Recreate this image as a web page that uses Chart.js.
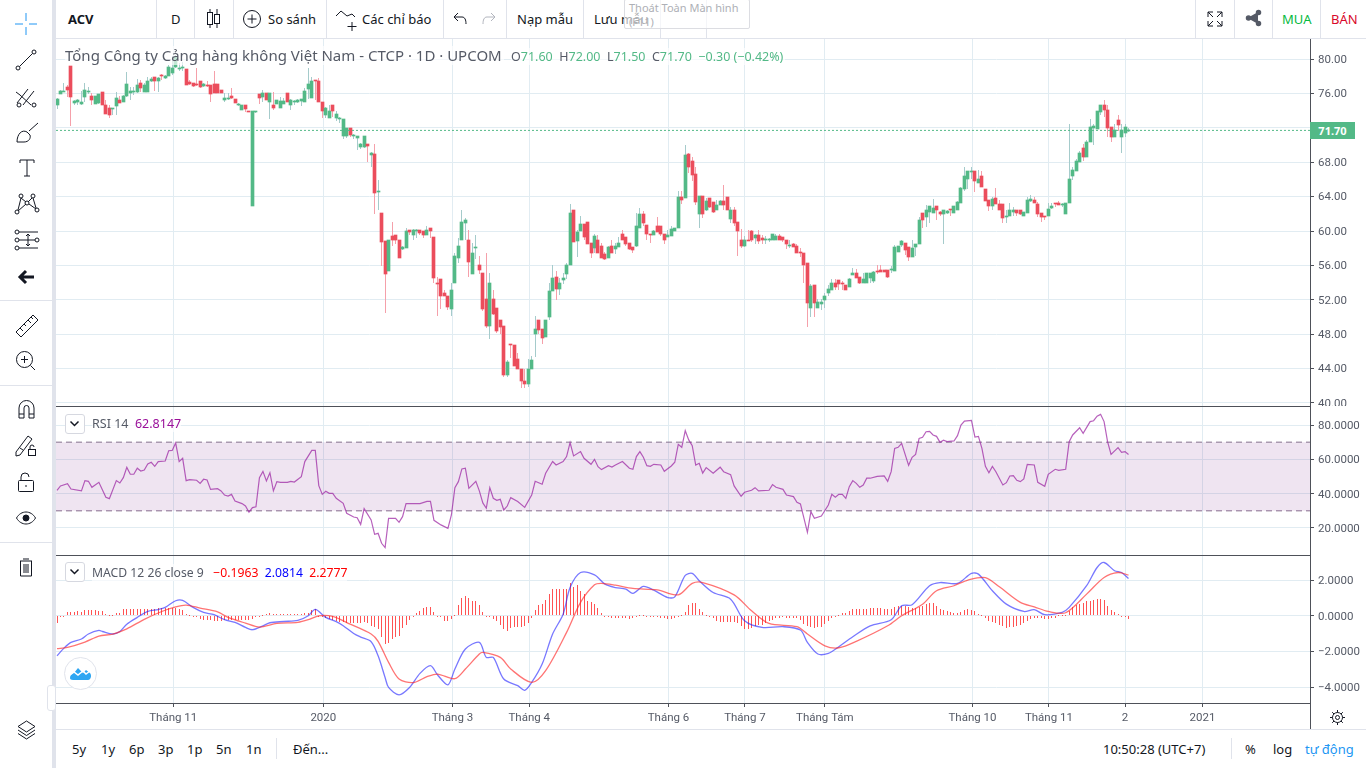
<!DOCTYPE html>
<html>
<head>
<meta charset="utf-8">
<title>ACV</title>
<script src="https://cdn.jsdelivr.net/npm/chart.js@4"></script>
<style>
html,body{margin:0;padding:0;background:#fff;width:1366px;height:768px;overflow:hidden;font-family:"Noto Sans",sans-serif;color:#131722}
canvas{position:absolute;left:56px}
.t{position:absolute;white-space:nowrap;font-size:13px;line-height:16px}
.v{position:absolute;background:#e0e3eb;width:1px}
.h{position:absolute;background:#e0e3eb;height:1px}
.sep{position:absolute;background:#4e5159}
svg{position:absolute;overflow:visible;fill:none;stroke:#131722;stroke-width:1}
.leg{position:absolute;white-space:nowrap;font-size:12.500px;line-height:17px;background:rgba(255,255,255,.65);color:#555a66}
.btn{position:absolute;left:65px;width:18px;height:18px;border:1px solid #d6d8e0;border-radius:3px;background:#fff}
</style>
</head>
<body>
<canvas id="priceChart" width="1310" height="367" style="top:39px"></canvas>
<canvas id="rsiChart" width="1310" height="149" style="top:406px"></canvas>
<canvas id="macdChart" width="1310" height="175" style="top:555px"></canvas>
<div class="sep" style="left:56px;top:406px;width:1254px;height:1px"></div>
<div class="sep" style="left:56px;top:555px;width:1254px;height:1px"></div>
<div class="sep" style="left:56px;top:703px;width:1254px;height:1px"></div>
<div class="sep" style="left:1310px;top:39px;width:1px;height:691px"></div>

<!-- top bar -->
<div class="h" style="left:52px;top:38px;width:1314px"></div>
<div class="v" style="left:52px;top:0;height:768px;width:4px"></div>
<div class="v" style="left:156px;top:0;height:38px"></div>
<div class="v" style="left:194px;top:0;height:38px"></div>
<div class="v" style="left:233px;top:0;height:38px"></div>
<div class="v" style="left:326px;top:0;height:38px"></div>
<div class="v" style="left:443px;top:0;height:38px"></div>
<div class="v" style="left:506px;top:0;height:38px"></div>
<div class="v" style="left:583px;top:0;height:38px"></div>
<div class="v" style="left:660px;top:0;height:38px"></div>
<div class="v" style="left:706px;top:0;height:38px"></div>
<div class="v" style="left:1195px;top:0;height:38px"></div>
<div class="v" style="left:1234px;top:0;height:38px"></div>
<div class="v" style="left:1272px;top:0;height:38px"></div>
<div class="v" style="left:1320px;top:0;height:38px"></div>
<span class="t" style="left:68px;top:11px;font-weight:700">ACV</span>
<span class="t" style="left:171px;top:11px">D</span>
<svg style="left:206px;top:9px" width="16" height="20"><path d="M4 0v3M4 15v4M11 0v5M11 14v5"/><rect x="1.5" y="3.5" width="5" height="12"/><rect x="8.5" y="5.5" width="5" height="9"/></svg>
<svg style="left:243px;top:10px" width="18" height="18"><circle cx="9" cy="9" r="8.5"/><path d="M9 4.5v9M4.5 9h9"/></svg>
<span class="t" style="left:268px;top:11px">So sánh</span>
<svg style="left:335px;top:10px" width="24" height="22"><path d="M1 6l5-5 6 5 5-2 3 3M17 12v9M12.500 16.500h9"/></svg>
<span class="t" style="left:362px;top:11px">Các chỉ báo</span>
<svg style="left:453px;top:12px" width="15" height="14"><path d="M5 1L1 5l4 4M1 5h8c3 0 4 3 4 7"/></svg>
<svg style="left:481px;top:12px;stroke:#b2b5be" width="15" height="14"><path d="M10 1l4 4-4 4M14 5H6c-3 0-4 3-4 7"/></svg>
<span class="t" style="left:517px;top:11px">Nạp mẫu</span>
<span class="t" style="left:594px;top:11px">Lưu mẫu</span>
<div style="position:absolute;left:624px;top:-1px;width:124px;height:28px;border:1px solid #dcdde2;border-radius:2px;background:rgba(255,255,255,.65)"></div>
<span class="t" style="left:629px;top:1px;font-size:11px;color:#aeb0b6;line-height:14px">Thoát Toàn Màn hình<br>(F11)</span>
<svg style="left:1207px;top:11px" width="16" height="16"><path d="M6 1H1v5M10 1h5v5M6 15H1v-5M10 15h5v-5M1 1l5 5M15 1l-5 5M1 15l5-5M15 15l-5-5"/></svg>
<svg style="left:1246px;top:10px;fill:#555a66;stroke:#555a66;stroke-width:1.500" width="15" height="16"><circle cx="12.500" cy="2.500" r="2"/><circle cx="2.500" cy="8" r="2"/><circle cx="12.500" cy="13.500" r="2"/><path d="M12 3L3 8l9 5"/></svg>
<span class="t" style="left:1282px;top:11px;color:#06b93f">MUA</span>
<span class="t" style="left:1331px;top:11px;color:#d9082a">BÁN</span>

<!-- left toolbar -->
<svg style="left:15px;top:13px;stroke:#2196f3" width="22" height="22"><path d="M11 0v8M11 14v8M0 11h8M14 11h8"/></svg>
<svg style="left:15px;top:49px" width="22" height="22"><circle cx="3" cy="19" r="2"/><circle cx="19" cy="3" r="2"/><path d="M4.500 17.500L17.500 4.500"/></svg>
<svg style="left:15px;top:86px" width="22" height="22"><path d="M2 17L13 3M8 19L19 5M5 9l11 10M1 6l4 3"/><circle cx="4" cy="19" r="2"/><circle cx="19" cy="19" r="2"/></svg>
<svg style="left:15px;top:122px" width="24" height="22"><path d="M2 20c0-8 5-13 10-10l3 3c1 3-1 7-6 7H2zM14 9L23 1"/></svg>
<svg style="left:19px;top:159px" width="16" height="18"><path d="M1 4V1h14v3M8 1v16M5 17h6"/></svg>
<svg style="left:15px;top:193px" width="24" height="22"><circle cx="6" cy="3" r="2"/><circle cx="18" cy="3" r="2"/><circle cx="12" cy="10" r="2"/><circle cx="2" cy="19" r="2"/><circle cx="22" cy="17" r="2"/><path d="M6 5l5 4M17 5l-4 4M6 5L3 17M18 5l3 10M3 18l8-7M14 11l7 5"/></svg>
<svg style="left:15px;top:230px" width="24" height="20"><circle cx="2" cy="2" r="2"/><circle cx="2" cy="10" r="2"/><circle cx="2" cy="18" r="2"/><circle cx="22" cy="10" r="2"/><path d="M4 2h19M4 10h16M4 18h19M13 4v12M11 6l2-2 2 2M11 14l2 2 2-2"/></svg>
<svg style="left:19px;top:270px;stroke:#131722;stroke-width:3" width="16" height="14"><path d="M7 1L1 7l6 6M1 7h14"/></svg>
<div class="h" style="left:0;top:300px;width:52px"></div>
<svg style="left:15px;top:314px" width="24" height="24"><path d="M1 18L18 1l5 5L6 23zM5 14l3 3M9 10l2 2M13 6l3 3M16 3l2 2"/></svg>
<svg style="left:16px;top:351px" width="20" height="20"><circle cx="8.500" cy="8.500" r="8"/><path d="M5 8.500h7M8.500 5v7M14.500 14.500l4.500 4.500"/></svg>
<div class="h" style="left:0;top:385px;width:52px"></div>
<svg style="left:18px;top:400px" width="17" height="19"><path d="M1 18V8a7.500 7.500 0 0 1 15 0v10h-5V8a2.500 2.500 0 0 0-5 0v10zM1 14h5M11 14h5"/></svg>
<svg style="left:15px;top:434px" width="22" height="22"><path d="M1 18L13 2l4 3L5 21l-4 1zM5 14l3 2"/><rect x="13.500" y="15.500" width="7" height="6"/><path d="M15 15v-2a2 2 0 0 1 4 0"/></svg>
<svg style="left:18px;top:472px" width="16" height="20"><rect x="0.500" y="8.500" width="15" height="11" rx="1"/><path d="M3 8V5a4 4 0 0 1 8 0M8 13v2"/></svg>
<svg style="left:16px;top:511px" width="20" height="14"><path d="M0.500 7C5-1 15-1 19.500 7 15 15 5 15 0.500 7z"/><circle cx="10" cy="7" r="3" fill="#131722"/></svg>
<div class="h" style="left:0;top:542px;width:52px"></div>
<svg style="left:19px;top:558px" width="14" height="19"><path d="M1 3h12M4 1h6M1.500 3v15h11V3M5 6v9M7 6v9M9 6v9"/></svg>
<svg style="left:17px;top:720px" width="19" height="20"><path d="M9.500 1l8.500 5.500-8.500 5.500L1 6.500zM1 10l8.500 5.500L18 10M1 13.500L9.500 19l8.500-5.500"/></svg>

<!-- legends -->
<div class="leg" style="left:65px;top:46px;width:436px;font-size:15px;line-height:19px;padding-right:3px">Tổng Công ty Cảng hàng không Việt Nam - CTCP · 1D · UPCOM</div>
<div class="leg" style="left:511px;top:48px;padding-right:2px">O<span style="color:#53b987">71.60</span>&nbsp; H<span style="color:#53b987">72.00</span>&nbsp; L<span style="color:#53b987">71.50</span>&nbsp; C<span style="color:#53b987">71.70</span>&nbsp; <span style="color:#53b987">−0.30 (−0.42%)</span></div>
<div class="btn" style="top:414px"></div>
<svg style="left:70px;top:421px;stroke-width:1.500" width="9" height="6"><path d="M0.500 0.500L4.500 4.500 8.500 0.500"/></svg>
<div class="leg" style="left:92px;top:415px">RSI 14&nbsp; <span style="color:#990f99">62.8147</span></div>
<div class="btn" style="top:562px"></div>
<svg style="left:70px;top:569px;stroke-width:1.500" width="9" height="6"><path d="M0.500 0.500L4.500 4.500 8.500 0.500"/></svg>
<div class="leg" style="left:92px;top:564px;font-size:12.200px">MACD 12 26 close 9 &nbsp; <span style="color:#ff0000">−0.1963</span>&nbsp; <span style="color:#0000ff">2.0814</span>&nbsp; <span style="color:#ff0000">2.2777</span></div>
<div class="t" style="left:1310px;top:122px;width:45px;height:17px;line-height:17px;background:#53b987;color:#fff;font-size:11px;font-weight:700;text-align:center">71.70</div>

<!-- logo and handle -->
<div style="position:absolute;left:64px;top:657px;width:31px;height:31px;border:1px solid #e0e3eb;border-radius:50%;background:#fff"></div>
<svg style="left:70px;top:665px;fill:#2ea6f2;stroke:none" width="22" height="16"><path d="M0 13c0-3 2-5 4-5l4-5 5 5 3-3 4 3c2 2 1 7-2 7H3c-2 0-3-1-3-2z"/><path d="M0 10l4-3 4 3 5-4 3 3 4-3" style="fill:none;stroke:#fff;stroke-width:1.500"/></svg>
<div style="position:absolute;left:47px;top:685px;width:7px;height:24px;border:1px solid #e0e3eb;border-radius:3px;background:#fff"></div>

<!-- bottom bar -->
<div class="h" style="left:52px;top:729px;width:1314px"></div>
<div class="v" style="left:276px;top:738px;height:21px"></div>
<span class="t" style="left:72px;top:741px">5y</span>
<span class="t" style="left:101px;top:741px">1y</span>
<span class="t" style="left:129px;top:741px">6p</span>
<span class="t" style="left:158px;top:741px">3p</span>
<span class="t" style="left:187px;top:741px">1p</span>
<span class="t" style="left:216px;top:741px">5n</span>
<span class="t" style="left:246px;top:741px">1n</span>
<span class="t" style="left:293px;top:741px">Đến...</span>
<span class="t" style="left:1103px;top:741px">10:50:28 (UTC+7)</span>
<div class="v" style="left:1231px;top:738px;height:21px"></div>
<span class="t" style="left:1245px;top:741px">%</span>
<span class="t" style="left:1273px;top:741px">log</span>
<span class="t" style="left:1305px;top:741px;color:#2196f3">tự động</span>
<svg style="left:1330px;top:710px" width="15" height="15"><circle cx="7.500" cy="7.500" r="5"/><circle cx="7.500" cy="7.500" r="2"/><path d="M7.500 0v2.500M7.500 12.500V15M0 7.500h2.500M12.500 7.500H15M2.200 2.200L4 4M11 11l1.800 1.800M2.200 12.800L4 11M11 4l1.800-1.800"/></svg>

<script>
const opens = [74.6,75.9,76.2,76.7,79.2,74.9,75.0,74.8,75.6,76.2,
75.7,74.8,74.9,76.2,74.6,74.3,74.2,74.5,75.2,75.0,
75.7,76.0,76.2,76.2,77.2,76.2,76.2,77.4,77.9,77.5,
78.2,77.8,78.0,78.4,79.1,78.8,78.9,78.8,77.3,77.2,
77.1,77.4,76.9,77.0,77.0,77.1,77.1,76.4,75.2,75.3,
75.7,75.3,74.6,74.1,74.6,74.0,62.9,73.8,75.9,75.6,
76.0,75.0,74.6,74.8,74.3,74.8,76.0,74.6,75.0,75.0,
75.1,75.0,76.5,75.5,77.6,77.4,75.0,73.5,73.1,74.6,
73.1,73.0,71.0,71.0,72.0,71.0,70.8,69.8,69.8,70.1,
68.8,69.0,64.5,62.1,58.8,55.4,59.4,59.5,59.0,57.9,
58.0,60.1,59.5,60.0,60.1,60.0,59.5,60.4,59.3,54.0,
54.4,52.8,52.5,50.9,54.0,56.9,58.9,60.9,59.0,55.0,
58.0,56.0,55.1,52.1,48.9,52.1,51.0,49.6,48.9,43.2,
46.9,46.8,45.1,44.0,42.6,42.2,43.9,48.0,49.6,48.6,
47.7,50.0,53.0,54.6,53.3,54.3,55.0,56.1,62.5,58.8,
60.0,60.8,61.0,58.6,58.0,59.0,58.3,57.3,56.9,58.3,
57.9,58.1,59.7,59.3,58.6,58.1,58.2,60.4,62.0,60.7,
59.6,59.5,60.6,60.6,59.7,59.3,59.4,60.0,60.3,63.9,
63.8,69.0,68.1,66.6,62.0,64.1,62.4,63.8,63.4,62.4,
63.0,63.5,63.9,61.4,62.4,61.0,58.9,58.3,59.0,60.0,
59.2,59.5,59.2,59.0,59.0,59.0,59.0,59.4,59.3,59.0,
58.3,58.5,58.3,57.6,57.5,56.3,51.0,53.7,51.1,51.5,
52.0,52.8,53.1,53.9,54.3,54.0,53.7,53.5,54.9,55.1,
54.6,54.0,54.0,54.5,54.2,55.3,55.5,55.5,55.5,55.5,
55.3,57.6,58.4,58.6,58.1,57.0,58.1,58.5,62.1,61.6,
62.2,62.1,62.9,62.2,62.0,62.1,62.5,62.1,62.4,63.2,
64.9,66.0,66.9,67.0,65.6,66.4,64.9,63.6,62.9,63.8,
63.1,63.1,61.6,61.7,62.2,62.5,62.4,61.7,62.1,63.5,
63.6,63.1,62.1,61.7,61.7,62.7,63.2,63.2,63.0,62.0,
63.2,66.4,67.0,68.0,69.6,68.6,70.3,72.0,71.9,73.8,
74.6,74.1,72.1,70.9,72.9,70.9,71.4,71.6];
const highs = [75.5,76.4,77.2,77.0,79.2,75.2,75.3,76.3,77.2,76.7,
76.0,75.7,75.9,76.2,75.2,74.6,74.3,76.2,75.7,75.8,
78.5,76.8,76.8,77.7,77.6,77.2,77.9,77.9,77.9,77.9,
78.3,78.1,79.3,80.3,80.5,79.5,79.6,78.8,77.6,77.2,
79.0,77.4,77.2,77.4,77.0,78.6,77.1,76.4,76.1,76.0,
76.6,75.3,74.9,74.7,74.6,74.0,74.0,74.0,75.9,76.4,
76.0,76.0,76.2,75.2,75.6,75.5,76.0,75.3,75.2,75.3,
75.4,76.6,79.0,77.9,77.6,77.8,75.0,74.4,74.6,74.6,
73.9,73.3,73.0,72.0,72.0,71.3,71.0,70.2,71.0,70.1,
69.2,70.1,65.9,62.1,58.8,59.0,61.1,59.5,59.0,58.3,
60.4,60.1,60.2,60.2,60.1,60.0,60.6,60.4,59.3,54.6,
54.4,53.1,52.5,54.0,57.5,59.2,62.5,61.5,60.1,58.6,
59.5,57.1,55.1,57.5,55.1,53.1,51.0,49.6,48.9,45.0,
46.9,46.8,45.8,44.0,44.0,45.1,45.5,50.1,49.6,48.6,
49.6,54.0,56.0,55.3,54.5,55.1,56.3,63.1,62.5,60.1,
61.7,60.8,61.0,58.6,59.6,59.5,58.6,57.6,58.3,58.9,
58.6,59.3,60.1,59.3,58.6,58.1,62.1,62.7,62.3,60.7,
59.6,60.1,61.6,60.6,59.7,60.1,60.6,60.4,64.6,64.6,
70.0,69.1,68.6,67.5,64.1,64.1,63.8,63.8,63.4,63.6,
63.6,65.3,64.0,62.8,62.8,61.0,60.2,59.4,60.1,60.1,
59.6,60.1,59.5,59.4,59.2,59.6,59.6,59.6,59.3,59.0,
58.9,58.6,58.5,58.0,57.5,56.3,53.8,53.7,52.1,52.1,
52.8,53.7,54.4,54.4,54.3,54.2,53.7,54.5,55.7,55.6,
54.6,55.1,55.1,55.1,55.3,56.0,56.0,55.5,55.5,55.9,
58.4,58.2,58.9,58.6,58.1,59.0,58.5,61.6,62.1,63.0,
62.9,63.7,62.9,62.3,62.5,62.5,62.6,62.9,63.5,65.1,
67.4,67.0,67.5,67.0,67.1,67.0,64.9,63.6,63.9,65.0,
63.6,63.1,62.5,63.2,62.8,62.5,62.4,62.2,63.9,64.2,
64.0,63.4,62.1,61.7,63.2,63.2,63.3,63.5,63.3,63.2,
72.4,67.4,68.4,69.3,70.1,70.6,73.0,72.4,74.0,74.6,
75.2,74.6,72.1,72.4,73.5,72.4,72.4,72.0];
const lows = [74.2,75.9,76.2,75.6,72.2,74.7,74.7,74.7,75.0,75.9,
74.6,74.8,74.8,74.6,73.6,73.1,73.5,73.5,74.9,75.0,
75.6,75.2,75.8,76.1,76.2,76.2,76.2,77.3,76.3,76.2,
77.6,77.7,78.0,78.1,79.0,78.6,78.6,77.0,77.0,76.8,
76.9,76.6,76.8,76.8,75.0,76.0,76.0,76.0,75.0,75.2,
75.4,74.9,74.5,74.1,73.8,73.8,62.9,73.7,74.8,75.0,
75.2,73.0,74.1,74.8,74.3,74.8,75.0,74.1,74.7,74.9,
74.5,75.0,75.4,75.5,75.2,75.0,73.1,73.1,73.1,73.3,
72.8,72.6,70.7,70.8,70.9,70.7,69.4,69.5,69.6,68.0,
67.5,62.0,62.4,55.9,50.5,55.4,58.2,58.5,56.9,57.8,
58.0,59.5,58.9,59.2,59.5,59.2,59.5,59.2,54.0,50.1,
50.9,52.4,50.8,50.1,54.0,56.3,58.9,58.9,54.6,55.0,
56.8,55.0,50.7,48.7,47.4,50.2,48.1,48.0,43.0,43.0,
45.2,44.3,43.9,41.7,41.7,41.9,43.9,45.4,48.0,46.9,
47.7,49.7,53.0,52.0,52.6,53.8,54.4,56.0,58.7,57.0,
60.0,58.9,58.5,56.9,57.5,57.5,56.9,56.6,56.9,57.4,
57.3,58.1,59.0,58.2,57.8,57.4,58.1,60.4,60.6,59.0,
58.6,59.5,59.9,59.4,58.5,59.3,59.4,60.0,60.3,63.1,
63.8,66.7,65.8,63.0,60.4,61.5,62.3,62.7,62.1,62.4,
63.0,62.5,62.4,60.9,60.6,57.1,58.0,58.1,58.8,58.7,
58.5,58.5,58.5,58.5,58.7,58.9,58.9,59.0,58.7,57.9,
58.0,58.1,57.4,57.0,53.9,48.8,50.0,50.0,51.0,50.8,
51.0,52.4,53.1,53.1,53.1,53.1,53.1,53.5,54.9,54.5,
53.8,54.0,54.0,53.9,54.0,55.0,55.2,55.2,54.5,55.1,
55.3,57.6,58.1,57.2,56.5,57.0,57.1,58.5,60.3,60.5,
60.9,62.1,61.3,61.7,58.5,62.0,61.7,62.1,62.4,63.2,
64.6,64.9,66.1,64.5,65.6,65.1,63.5,62.3,62.4,63.1,
62.4,60.9,60.9,61.7,61.7,61.7,61.9,61.7,62.1,63.4,
63.2,61.6,61.0,61.3,61.7,62.6,62.8,63.0,62.8,62.0,
63.2,65.9,67.0,68.0,68.1,68.6,70.3,70.0,71.9,73.5,
73.3,70.9,70.3,70.9,71.6,69.1,70.9,71.5];
const closes = [75.3,76.3,76.3,76.4,75.6,75.1,75.2,75.0,76.4,76.3,
75.2,75.7,75.9,74.6,73.6,73.5,74.3,75.5,74.9,75.7,
77.1,76.3,76.3,77.0,76.6,77.0,77.4,77.7,77.4,77.8,
78.0,78.0,79.1,79.0,80.2,78.9,79.1,77.0,77.1,76.9,
77.0,76.7,77.1,76.9,75.9,76.0,76.0,76.0,75.5,75.5,
75.5,74.9,74.8,74.6,74.2,73.8,74.0,74.0,75.5,76.0,
75.2,76.0,74.3,75.2,75.1,75.1,75.0,75.2,75.1,75.2,
75.3,76.3,77.1,77.4,77.4,75.0,74.0,74.3,73.9,73.9,
73.6,73.2,73.0,72.0,71.2,71.1,71.0,70.1,71.0,69.9,
69.1,64.4,64.6,58.7,55.0,59.0,58.9,58.9,56.9,58.1,
60.0,59.9,60.1,60.1,59.8,59.5,60.1,60.0,54.5,53.8,
52.5,52.4,51.2,53.1,57.1,58.3,61.0,61.3,56.4,57.4,
58.1,55.5,50.9,48.9,53.9,50.4,48.4,48.8,43.3,44.8,
46.7,44.3,43.9,42.5,42.2,44.0,45.0,48.6,48.5,47.6,
49.6,53.0,54.5,53.2,54.0,54.5,56.0,62.1,58.7,59.9,
60.8,59.3,58.5,57.5,59.4,57.5,56.9,56.8,58.1,57.4,
58.2,58.6,59.0,58.5,57.9,57.8,60.6,62.0,60.9,59.6,
59.5,60.0,59.9,59.6,58.9,59.5,60.2,60.3,63.9,63.6,
68.8,67.4,66.5,63.4,64.1,62.0,63.5,62.8,62.2,63.0,
63.5,63.0,62.4,62.4,60.9,60.0,58.2,58.9,58.8,59.0,
59.5,58.8,58.9,59.1,59.1,59.6,59.4,59.0,58.9,58.5,
58.4,58.1,57.5,57.4,56.1,51.6,53.6,51.6,51.8,51.7,
52.4,53.2,53.9,53.5,53.8,53.8,53.1,54.4,55.1,54.5,
54.0,54.4,55.1,55.1,55.2,55.2,55.2,55.2,54.7,55.6,
58.1,58.2,58.8,57.8,57.0,58.0,58.5,61.3,61.3,62.4,
62.9,62.7,62.4,62.0,62.5,62.3,62.4,62.9,63.4,65.0,
66.4,67.0,67.0,65.8,66.0,65.1,63.5,62.9,63.7,63.1,
62.4,61.5,61.8,62.5,62.5,62.1,62.0,62.2,63.6,63.7,
63.2,62.0,61.6,61.6,62.6,62.9,63.1,63.0,63.1,63.2,
66.0,67.1,68.2,69.1,68.6,70.3,72.1,72.2,74.0,74.6,
74.1,72.0,70.9,71.7,72.3,71.8,72.1,71.7];

const rsiBars = [0,1,3,4,7,8,9,10,12,14,15,17,18,19,20,21,22,23,24,25,26,27,28,29,31,32,33,34,35,36,37,38,40,41,42,43,44,46,47,48,49,50,51,53,54,55,56,57,58,59,60,61,62,63,64,66,67,68,70,71,73,74,75,76,77,78,79,80,82,83,85,86,87,88,90,91,92,93,94,95,97,98,99,100,104,106,107,108,110,112,113,114,115,116,117,118,120,121,122,123,124,125,126,127,128,129,130,132,134,136,137,139,140,142,143,145,146,147,148,150,151,
153,154,155,156,158,159,160,162,164,165,166,167,168,169,170,171,173,174,176,177,178,179,180,181,182,183,184,185,186,188,190,191,193,194,196,197,199,200,201,204,205,206,208,209,211,212,213,215,216,217,219,221,222,223,224,225,226,227,228,229,230,231,232,233,235,237,238,239,240,241,242,244,245,246,247,248,249,250,251,252,253,254,255,257,258,259,260,262,263,264,265,266,267,268,269,271,272,273,274,275,276,277,278,280,281,283,284,286,287,289,290,291,293,294,296,297,298,299,300,301,302,304,305,306,307];
const rsiValues = [41.9,44.5,45.8,42.7,41.6,47.6,47.2,43.7,46.6,37.9,37.1,47.6,46.2,49.3,55.3,51.3,51.3,54.8,53.2,53.8,57.3,58.3,55.9,58.7,59.0,65.0,65.2,69.5,58.7,60.6,47.6,48.2,47.8,46.0,48.4,48.0,42.5,42.9,41.6,39.2,38.6,39.6,35.7,34.2,32.8,29.2,31.9,32.4,49.3,53.0,47.4,52.2,41.6,47.0,46.6,46.6,47.2,46.8,49.9,58.7,65.2,65.2,44.7,39.6,41.4,40.2,40.2,37.3,34.4,28.6,26.4,26.0,22.1,31.3,24.7,16.3,16.9,11.1,8.6,25.6,25.6,23.3,26.6,34.2,34.2,35.5,35.5,24.5,21.8,19.8,27.6,43.5,47.0,54.4,54.8,43.1,47.2,41.6,34.6,31.5,43.5,37.3,36.1,36.7,30.5,32.8,37.7,35.4,32.0,39.2,47.2,45.5,51.9,58.7,56.7,58.7,61.6,69.7,62.0,64.5,60.6,
57.1,60.0,55.7,54.0,56.3,55.5,56.7,58.7,54.8,54.2,61.6,64.5,61.2,56.3,55.9,57.1,56.7,53.0,56.1,58.3,68.7,67.0,76.7,71.3,68.0,56.7,57.7,52.0,55.2,51.9,55.4,52.8,51.1,44.5,38.5,40.8,42.0,43.5,41.6,42.0,45.3,43.7,42.5,39.2,38.3,35.0,34.0,17.5,29.5,25.6,27.0,33.4,39.6,37.9,39.6,39.6,37.3,44.1,47.6,46.0,43.7,45.0,49.0,49.0,50.1,50.3,47.2,52.8,66.4,67.0,69.3,56.5,61.2,62.9,72.2,72.8,76.1,76.3,74.2,73.4,69.9,71.1,70.3,70.7,73.8,80.0,82.3,82.7,73.0,73.4,66.4,55.9,52.2,55.9,52.8,45.1,46.4,50.3,50.5,47.8,47.0,48.6,57.1,56.7,46.6,44.3,51.3,54.2,53.6,54.2,70.3,74.2,78.4,75.2,82.0,82.5,85.1,86.2,82.0,70.3,62.9,66.8,64.1,64.5,62.8];
const rsiBandTop = 70;
const rsiBandBottom = 30;

const macdBars = [0,2,4,7,9,12,13,16,18,20,23,26,29,31,34,36,39,42,45,48,51,54,56,59,61,65,69,72,74,77,80,82,85,87,90,92,94,95,98,101,104,107,109,112,114,117,121,123,125,128,132,134,136,139,142,145,147,150,154,157,160,163,165,168,171,175,177,180,182,184,188,193,197,202,208,213,215,218,221,224,228,233,239,242,245,250,253,258,262,264,268,272,277,280,283,288,290,295,298,300,303,305,307];
const macdValues = [-2.24,-1.81,-1.49,-1.30,-1.02,-0.82,-0.88,-1.02,-0.88,-0.47,-0.09,0.24,0.35,0.47,0.84,0.86,0.47,0.19,0.06,-0.22,-0.37,-0.65,-0.78,-0.56,-0.39,-0.32,-0.26,0.00,0.36,-0.09,-0.33,-0.56,-0.99,-1.19,-1.45,-2.24,-3.45,-4.01,-4.42,-4.01,-3.22,-2.79,-3.30,-3.86,-2.98,-1.86,-1.49,-2.33,-2.33,-3.54,-3.91,-4.17,-3.73,-2.70,-1.02,0.09,1.58,2.42,2.29,1.77,1.58,1.49,1.25,1.64,1.43,1.02,1.06,2.26,2.37,1.96,1.30,0.93,-0.28,-0.65,-0.61,-0.80,-1.49,-2.14,-2.10,-1.73,-1.17,-0.56,-0.22,0.56,0.62,1.68,1.86,1.81,2.37,2.33,1.40,0.65,0.24,0.34,0.06,0.19,0.47,1.68,2.70,2.98,2.52,2.42,2.08];
const signalBars = [0,3,8,12,16,20,25,30,34,37,41,46,49,54,58,63,69,72,75,79,84,90,92,95,98,102,106,109,114,117,121,122,127,130,136,140,146,150,154,156,160,165,172,178,182,185,194,199,204,212,215,220,224,229,238,242,248,252,257,261,266,270,276,280,284,289,295,300,304,307];
const signalValues = [-1.84,-1.77,-1.47,-1.14,-1.02,-0.73,-0.20,0.24,0.50,0.60,0.43,0.22,-0.09,-0.41,-0.63,-0.43,-0.37,-0.22,0.00,-0.04,-0.47,-1.02,-1.43,-2.61,-3.54,-3.74,-3.41,-3.26,-3.52,-2.98,-2.14,-2.05,-2.33,-2.98,-3.73,-3.07,-0.93,0.75,1.73,1.81,1.71,1.53,1.45,1.17,1.81,1.86,1.17,0.28,-0.43,-0.61,-1.02,-1.68,-1.79,-1.43,-0.56,0.00,0.65,1.40,1.68,2.00,2.14,1.62,0.75,0.50,0.24,0.17,1.21,2.14,2.42,2.28];
const histValues = [-.39,-.09,-.04,.19,.20,.20,.24,.22,.32,.32,
.30,.30,.28,.24,.09,.04,.06,.15,.17,.37,
.37,.37,.37,.37,.39,.39,.39,.39,.39,.41,
.43,.43,.46,.41,.43,.37,.30,.09,.04,-.06,
-.09,-.2,-.22,-.22,-.24,-.3,-.3,-.28,-.26,-.24,
-.24,-.24,-.22,-.26,-.26,-.22,-.18,-.07,-.04,.04,
.09,.13,.09,.09,.09,.09,.09,.09,.09,.11,
.11,.15,.17,.3,.36,-.02,-.07,-.13,-.19,-.22,
-.28,-.33,-.37,-.39,-.39,-.41,-.41,-.39,-.37,-.41,
-.56,-.62,-.75,-1.2,-1.58,-1.5,-1.3,-1.17,-1.12,-.69,
-.5,-.24,-.02,.15,.28,.41,.47,.5,.19,-.04,
-.09,-.3,-.3,-.2,.07,.6,1.0,1.1,1.0,.85,
.85,.6,.2,-.04,-.09,-.2,-.3,-.5,-.75,-.85,
-.7,-.65,-.65,-.65,-.6,-.4,-.1,.35,.6,.65,
.9,1.2,1.5,1.5,1.5,1.5,1.5,1.85,1.6,1.7,
1.4,1.2,.8,.78,.65,.43,.15,0,-.09,-.1,
-.1,-.1,-.1,-.12,-.2,-.15,-.07,.04,.07,0,
0,-.04,-.06,-.1,-.15,-.2,-.2,-.15,-.05,.05,
.2,.6,.7,.7,.4,.2,.02,-.04,-.15,-.3,
-.33,-.33,-.33,-.35,-.35,-.4,-.55,-.72,-.72,-.7,
-.6,-.5,-.5,-.4,-.3,-.25,-.15,-.1,-.08,-.1,
-.1,-.1,-.1,-.25,-.45,-.6,-.65,-.68,-.65,-.65,
-.45,-.3,-.1,-.03,.02,.13,.17,.28,.37,.37,
.37,.37,.37,.43,.43,.43,.43,.4,.37,.37,
.5,.55,.55,.55,.5,.45,.43,.5,.55,.65,
.72,.7,.55,.38,.32,.25,.2,.18,.17,.2,
.33,.37,.35,.25,.1,.02,-.1,-.3,-.35,-.4,
-.5,-.6,-.68,-.65,-.62,-.55,-.5,-.42,-.3,-.2,
-.12,-.1,-.15,-.2,-.2,-.15,-.1,.02,.02,.02,
.28,.5,.6,.68,.7,.8,.85,.9,.93,.93,
.88,.56,.32,.19,.11,0,-.09,-.2];

const lastPrice = 71.7;
const priceTicks = [40,44,48,52,56,60,64,68,72,76,80];
const rsiTicks = [20,40,60,80];
const macdTicks = [-4,-2,0,2];
const timeBars = [33.3,76.3,113.3,135.3,175.2,197.1,220,262.3,284.2,306,328.2];
const timeLabels = ["Tháng 11","2020","Tháng 3","Tháng 4","Tháng 6","Tháng 7","Tháng Tám","Tháng 10","Tháng 11","2","2021"];

const UP = "#53b987", DOWN = "#eb4d5c", UP_WICK = "#a5cbcb", DOWN_WICK = "#f5a0aa";
const GRID = "#e1ecf2", AXIS = "#4e5159", LABEL = "#555a66";
const FONT = {family: 'Roboto, sans-serif', size: 11.5};
const X_MIN = -0.29, X_MAX = 359;

// snap the bars to whole pixels so wicks and histogram stay crisp
const snapBars = {
    id: "snapBars",
    beforeDatasetsDraw(chart) {
        chart.getSortedVisibleDatasetMetas().forEach(meta => {
            if (meta.type !== "bar") return;
            meta.data.forEach(el => {
                el.x = Math.floor(el.x) + 0.5;
                el.y = Math.round(el.y);
                el.base = Math.round(el.base);
                if (el.y === el.base) el.base = el.y + 1;
            });
        });
    }
};

function xAxis(showLabels) {
    return {
        type: "linear", min: X_MIN, max: X_MAX, offset: false,
        afterBuildTicks: s => { s.ticks = timeBars.map(v => ({value: v})); },
        afterFit: s => { s.paddingLeft = 0; s.paddingRight = 0; if (showLabels) s.height = 27; },
        grid: {color: GRID, offset: false, drawTicks: showLabels, tickLength: 4, tickColor: AXIS},
        border: {display: false},
        ticks: {
            display: showLabels, autoSkip: false, maxRotation: 0, color: LABEL, font: FONT, padding: 4,
            callback: v => timeLabels[timeBars.indexOf(v)]
        }
    };
}

function yAxis(lo, hi, tickValues, digits) {
    return {
        position: "right", min: lo, max: hi,
        afterBuildTicks: s => { s.ticks = tickValues.map(v => ({value: v})); },
        afterFit: s => { s.width = 56; s.paddingTop = 0; s.paddingBottom = 0; },
        grid: {color: GRID, tickLength: 4, tickColor: AXIS},
        border: {display: false},
        ticks: {color: LABEL, font: FONT, padding: 4, labelOffset: 1, callback: v => v.toFixed(digits).replace("-", "−")}
    };
}

function makeChart(id, datasets, xOpts, yOpts) {
    return new Chart(document.getElementById(id), {
        type: "line",
        data: {datasets: datasets},
        plugins: [snapBars],
        options: {
            responsive: false, animation: false, events: [],
            layout: {padding: 0},
            plugins: {legend: {display: false}, tooltip: {enabled: false}},
            scales: {x: xOpts, y: yOpts}
        }
    });
}

function lineOf(bars, values, color) {
    return {
        type: "line", data: bars.map((b, i) => ({x: b, y: values[i]})),
        borderColor: color, borderWidth: 1, pointRadius: 0, tension: 0, fill: false
    };
}

const barDirs = closes.map((c, i) => c >= opens[i]);

makeChart("priceChart", [
    Object.assign(lineOf([X_MIN, X_MAX], [lastPrice, lastPrice], UP), {borderDash: [2, 2]}),
    {
        type: "bar", grouped: false, maxBarThickness: 3, minBarLength: 1, barPercentage: 1, categoryPercentage: 1,
        data: opens.map((o, i) => ({x: i, y: [o, closes[i]]})),
        backgroundColor: barDirs.map(up => up ? UP : DOWN)
    },
    {
        type: "bar", grouped: false, maxBarThickness: 1,
        data: highs.map((h, i) => ({x: i, y: [lows[i], h]})),
        backgroundColor: barDirs.map(up => up ? UP_WICK : DOWN_WICK)
    }
], xAxis(false), yAxis(39.65, 82.33, priceTicks, 2));

makeChart("rsiChart", [
    Object.assign(lineOf(rsiBars, rsiValues, "rgba(153,30,160,.7)"), {borderWidth: 1.2}),
    Object.assign(lineOf([X_MIN, X_MAX], [rsiBandTop, rsiBandTop], "#85718d"),
        {borderDash: [6, 4], fill: "+1", backgroundColor: "rgba(130,40,140,.125)"}),
    Object.assign(lineOf([X_MIN, X_MAX], [rsiBandBottom, rsiBandBottom], "#85718d"), {borderDash: [6, 4]})
], xAxis(false), yAxis(4.27, 91.07, rsiTicks, 4));

makeChart("macdChart", [
    Object.assign(lineOf(signalBars, signalValues, "rgba(255,40,40,.65)"), {borderWidth: 1.3, tension: 0.3}),
    Object.assign(lineOf(macdBars, macdValues, "rgba(30,30,255,.6)"), {borderWidth: 1.3, tension: 0.3}),
    {
        type: "bar", grouped: false, maxBarThickness: 1,
        data: histValues.map((v, i) => ({x: i, y: v})),
        backgroundColor: "rgba(255,40,40,.8)"
    }
], xAxis(true), yAxis(-4.88, 3.4, macdTicks, 4));
</script>
</body>
</html>
